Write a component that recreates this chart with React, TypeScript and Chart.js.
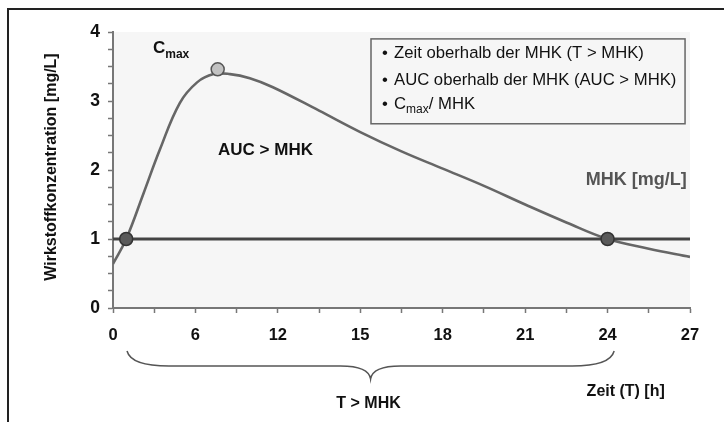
import React, { useEffect, useRef } from "react";
import { Chart, registerables } from "chart.js";

Chart.register(...registerables);

const FONT = '"Liberation Sans", Arial, sans-serif';

// Time axis: positions are measured in tick-label steps (0 = "0", 1 = "6", 2 = "12", ...)
const xTickLabels = ["0", "6", "12", "15", "18", "21", "24", "27"];
const yTickLabels = ["0", "1", "2", "3", "4"];

// Concentration curve (mg/L)
const curvePos = [0, 0.16, 0.37, 0.57, 0.81, 1.02, 1.22, 1.42, 1.66, 1.94, 2.5, 3.0, 3.5, 4.0, 4.5, 5.0, 5.5, 6.0, 6.5, 7.0];
const curveConc = [0.64, 1.0, 1.66, 2.3, 2.97, 3.27, 3.39, 3.39, 3.33, 3.2, 2.86, 2.55, 2.27, 2.02, 1.77, 1.5, 1.24, 1.0, 0.86, 0.74];

// MHK (minimum inhibitory concentration) line
const mhkValue = 1;
const mhkRange = [0, 7];

// Crossing points of curve and MHK
const crossPos = [0.16, 6.0];
const crossConc = [1, 1];

// Cmax marker
const cmaxPos = [1.27];
const cmaxConc = [3.46];

// Brace for T > MHK
const braceRange = [0.17, 6.08];

const legendLines = ["Zeit oberhalb der MHK (T > MHK)", "AUC oberhalb der MHK (AUC > MHK)"];

const annotations = {
  id: "annotations",
  beforeDraw(chart: any) {
    const { ctx, chartArea } = chart;
    ctx.save();
    ctx.fillStyle = "#f6f6f6";
    ctx.fillRect(chartArea.left, chartArea.top, chartArea.right - chartArea.left, chartArea.bottom - chartArea.top);
    // frame
    ctx.strokeStyle = "#222";
    ctx.lineWidth = 2;
    ctx.beginPath();
    ctx.moveTo(8, 430);
    ctx.lineTo(8, 9);
    ctx.lineTo(730, 9);
    ctx.stroke();
    ctx.restore();
  },
  afterDraw(chart: any) {
    const { ctx, chartArea } = chart;
    const xs = chart.scales.x;
    const ys = chart.scales.y;
    const px = (v: number) => xs.getPixelForValue(v);
    const py = (v: number) => ys.getPixelForValue(v);
    ctx.save();

    // Y axis title
    ctx.save();
    ctx.translate(52, (chartArea.top + chartArea.bottom) / 2 - 3);
    ctx.rotate(-Math.PI / 2);
    ctx.fillStyle = "#111";
    ctx.font = `bold 16px ${FONT}`;
    ctx.textAlign = "center";
    ctx.textBaseline = "middle";
    ctx.fillText("Wirkstoffkonzentration [mg/L]", 0, 0);
    ctx.restore();

    // Cmax label
    ctx.fillStyle = "#111";
    ctx.textAlign = "left";
    ctx.textBaseline = "middle";
    ctx.font = `bold 17px ${FONT}`;
    const cx = px(0.485);
    const cy = py(3.77);
    ctx.fillText("C", cx, cy);
    const cw = ctx.measureText("C").width;
    ctx.font = `bold 12px ${FONT}`;
    ctx.fillText("max", cx + cw, cy + 7);

    // AUC > MHK
    ctx.font = `bold 17px ${FONT}`;
    ctx.fillText("AUC > MHK", px(1.274), py(2.29));

    // MHK [mg/L]
    ctx.fillStyle = "#555";
    ctx.textAlign = "right";
    ctx.font = `bold 18px ${FONT}`;
    ctx.fillText("MHK [mg/L]", px(6.96), py(1.855));

    // Legend box
    const bx0 = px(3.13), bx1 = px(6.94), by0 = py(3.9), by1 = py(2.67);
    ctx.strokeStyle = "#666";
    ctx.lineWidth = 1.5;
    ctx.strokeRect(bx0, by0, bx1 - bx0, by1 - by0);
    ctx.fillStyle = "#111";
    ctx.textAlign = "left";
    ctx.font = `16.7px ${FONT}`;
    const lineYs = [by0 + 14, by0 + 41, by0 + 65];
    legendLines.forEach((t, i) => {
      ctx.fillText("\u2022", bx0 + 11, lineYs[i]);
      ctx.fillText(t, bx0 + 23, lineYs[i]);
    });
    ctx.fillText("\u2022", bx0 + 11, lineYs[2]);
    ctx.fillText("C", bx0 + 23, lineYs[2]);
    const c2 = ctx.measureText("C").width;
    ctx.font = `12px ${FONT}`;
    ctx.fillText("max", bx0 + 23 + c2, lineYs[2] + 6);
    const m2 = ctx.measureText("max").width;
    ctx.font = `16.7px ${FONT}`;
    ctx.fillText("/ MHK", bx0 + 23 + c2 + m2, lineYs[2]);

    // Brace
    const xL = px(braceRange[0]);
    const xR = px(braceRange[1]);
    const xM = (xL + xR) / 2;
    const y0 = chartArea.bottom + 43;
    const y1 = chartArea.bottom + 58;
    const y2 = chartArea.bottom + 71;
    ctx.strokeStyle = "#555";
    ctx.lineWidth = 1.5;
    ctx.beginPath();
    ctx.moveTo(xL, y0);
    ctx.quadraticCurveTo(xL + 4, y1, xL + 42, y1);
    ctx.lineTo(xM - 30, y1);
    ctx.quadraticCurveTo(xM - 2, y1, xM, y2);
    ctx.quadraticCurveTo(xM + 2, y1, xM + 30, y1);
    ctx.lineTo(xR - 42, y1);
    ctx.quadraticCurveTo(xR - 4, y1, xR, y0);
    ctx.stroke();

    // Bottom texts
    ctx.fillStyle = "#111";
    ctx.font = `bold 16px ${FONT}`;
    ctx.textAlign = "center";
    ctx.fillText("T > MHK", xM - 2, chartArea.bottom + 96);
    ctx.fillText("Zeit (T) [h]", px(6.22), chartArea.bottom + 84);

    ctx.restore();
  },
};

export default function App() {
  const ref = useRef<HTMLCanvasElement | null>(null);
  useEffect(() => {
    if (!ref.current) return;
    const chart = new Chart(ref.current, {
      type: "line",
      data: {
        datasets: [
          {
            label: "Cmax",
            type: "scatter",
            data: cmaxPos.map((x, i) => ({ x, y: cmaxConc[i] })),
            pointRadius: 6.5,
            pointBackgroundColor: "#c2c2c2",
            pointBorderColor: "#555",
            pointBorderWidth: 1.5,
            order: 0,
          } as any,
          {
            label: "Schnittpunkte",
            type: "scatter",
            data: crossPos.map((x, i) => ({ x, y: crossConc[i] })),
            pointRadius: 6.5,
            pointBackgroundColor: "#5a5a5a",
            pointBorderColor: "#333",
            pointBorderWidth: 1.5,
            order: 0,
          } as any,
          {
            label: "MHK",
            data: mhkRange.map((x) => ({ x, y: mhkValue })),
            borderColor: "#444",
            borderWidth: 3,
            pointRadius: 0,
            order: 1,
          },
          {
            label: "Konzentration",
            data: curvePos.map((x, i) => ({ x, y: curveConc[i] })),
            borderColor: "#666",
            borderWidth: 2.6,
            pointRadius: 0,
            tension: 0.4,
            order: 2,
          },
        ],
      },
      options: {
        animation: false,
        responsive: true,
        maintainAspectRatio: false,
        layout: { padding: { left: 8, right: 34, top: 32, bottom: 0 } },
        plugins: { legend: { display: false }, tooltip: { enabled: false } },
        scales: {
          x: {
            type: "linear",
            min: 0,
            max: 7,
            afterFit: (s: any) => {
              s.height = 114;
            },
            ticks: {
              stepSize: 0.5,
              autoSkip: false,
              maxRotation: 0,
              padding: 13,
              color: "#111",
              font: { family: FONT, size: 16.5, weight: "bold" },
              callback: (v: any) => (Number.isInteger(v) ? xTickLabels[v] : ""),
            },
            grid: { drawOnChartArea: false, tickLength: 5, color: "#777", tickWidth: 1.5 },
            border: { color: "#777", width: 2 },
          },
          y: {
            min: 0,
            max: 4,
            afterFit: (s: any) => {
              s.width = 105;
            },
            ticks: {
              stepSize: 0.25,
              autoSkip: false,
              padding: 8,
              color: "#111",
              font: { family: FONT, size: 17.5, weight: "bold" },
              callback: (v: any) => (Number.isInteger(v) ? yTickLabels[v] : ""),
            },
            grid: { drawOnChartArea: false, tickLength: 5, color: "#777", tickWidth: 1.5 },
            border: { color: "#777", width: 2 },
          },
        },
      },
      plugins: [annotations],
    });
    return () => chart.destroy();
  }, []);
  return (
    <div style={{ position: "fixed", left: 0, top: 0, width: 724, height: 422, background: "#fff" }}>
      <canvas ref={ref} />
    </div>
  );
}
